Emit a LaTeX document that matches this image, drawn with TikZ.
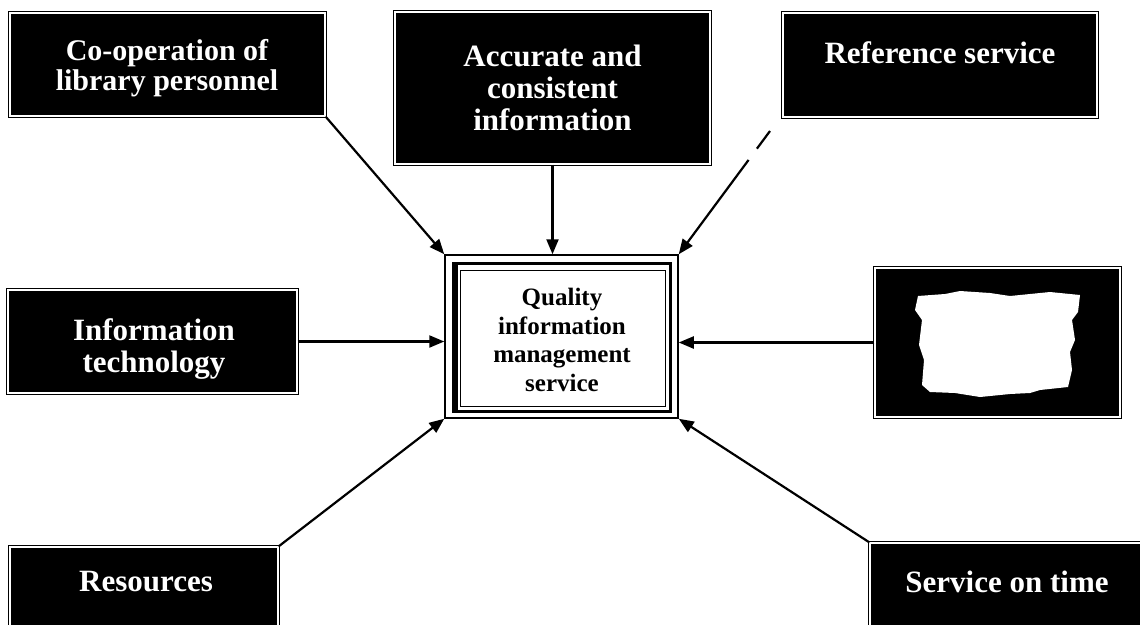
\documentclass[tikz,border=0pt]{standalone}
\usepackage{fontspec}
\setmainfont{Liberation Serif}
\usetikzlibrary{arrows.meta}

\begin{document}
\begin{tikzpicture}[x=1pt,y=-1pt,
  darkbox/.style={rectangle, draw=black, line width=1.2pt, double=white,
    double distance=1.1pt, fill=black, inner sep=0pt},
  boxtext/.style={text=white, align=center,
    font=\bfseries\fontsize{31}{32}\selectfont},
  hubtext/.style={align=center, font=\bfseries\fontsize{25}{28.5}\selectfont},
  link/.style={line width=2.2pt, -{Triangle[length=15pt,width=12pt]}},
]
\useasboundingbox (0,0) rectangle (1140,624);

% surrounding factor boxes
\node[darkbox, minimum width=315pt, minimum height=103pt] (coop) at (167.5,64.5) {};
\node[boxtext, font=\bfseries\fontsize{30}{30}\selectfont] (coop-t) at (167,68)
  {Co-operation of\\library personnel};
\node[darkbox, minimum width=315pt, minimum height=152pt, boxtext]
  (accur) at (552.5,88) {Accurate and\\consistent\\information};
\node[darkbox, minimum width=314pt, minimum height=104pt] (ref) at (940,65) {};
\node[boxtext] (ref-t) at (940,53) {Reference service};
\node[darkbox, minimum width=289pt, minimum height=103pt] (it) at (152.5,341.5) {};
\node[boxtext] (it-t) at (154,349) {Information\\technology};
\node[darkbox, minimum width=245pt, minimum height=149pt] (blank) at (997.5,342.5) {};
\node[darkbox, minimum width=268pt, minimum height=85pt] (res) at (144,589.5) {};
\node[boxtext] (res-t) at (146,582) {Resources};
\node[darkbox, minimum width=275pt, minimum height=89pt] (svc) at (1007.5,587.5) {};
\node[boxtext] (svc-t) at (1007,582) {Service on time};

% white patch inside the right-hand box
\fill[white] (918,296) -- (945,294) -- (960,291) -- (990,293) -- (1010,296)
  -- (1030,294) -- (1050,292) -- (1080,295) -- (1078,312) -- (1072,320)
  -- (1075,340) -- (1070,352) -- (1072,370) -- (1068,387) -- (1040,390)
  -- (1030,393) -- (1010,394) -- (980,397) -- (955,393) -- (930,392)
  -- (922,385) -- (924,360) -- (919,345) -- (922,320) -- (915,310) -- cycle;

% central service box with its framed border
\node[rectangle, draw=black, line width=1.5pt, fill=white,
  minimum width=233pt, minimum height=163pt]
  (qims) at (561.5,336.5) {};
\node[hubtext] (qims-t) at (562,340) {Quality\\information\\management\\service};
\draw[line width=3pt] (453,263) rectangle (670,411);
\draw[line width=1pt] (460,270) rectangle (665,406);
\draw[line width=6pt] (455,264) -- (455,410);

% connectors into the central box
\coordinate (refstart) at (770,131);
\draw[link] (coop.south east) -- (qims.north west);
\draw[link] (accur.south) -- (accur.south |- qims.north);
\draw[link, dash pattern=on 22pt off 14pt on 300pt] (refstart) -- (qims.north east);
\draw[link] (it.east) -- (it.east -| qims.west);
\draw[link] (blank.west) -- (blank.west -| qims.east);
\draw[link] (res.north east) -- (qims.south west);
\draw[link] (svc.north west) -- (qims.south east);
\end{tikzpicture}
\end{document}
